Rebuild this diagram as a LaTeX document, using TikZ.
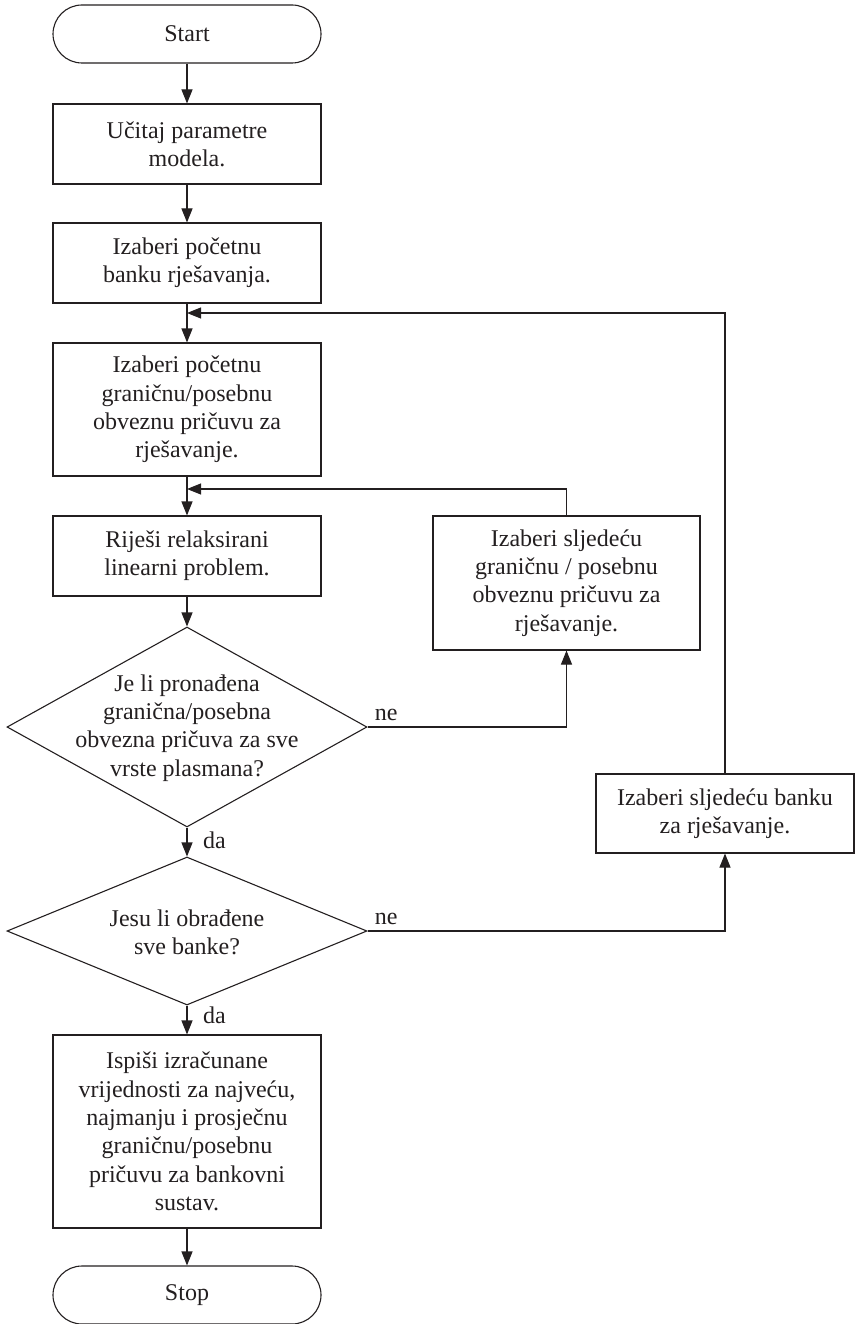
\documentclass[tikz,border=0pt]{standalone}
\usepackage{fontspec}
\setmainfont{Liberation Serif}
\usetikzlibrary{arrows.meta,shapes.geometric}
\definecolor{ln}{HTML}{231F20}
\definecolor{txt}{HTML}{231F20}
\begin{document}
\begin{tikzpicture}[x=1pt,y=-1pt,
  every node/.style={font=\fontsize{24}{28.3}\selectfont, text=txt},
  proc/.style={draw=ln, line width=1.1pt, minimum width=268pt, align=center, inner sep=0pt},
  term/.style={draw=ln, line width=1.1pt, rounded corners=29pt, minimum width=268pt, minimum height=58pt, align=center},
  dec/.style={draw=ln, line width=1.1pt, diamond, minimum width=360pt, inner sep=0pt},
  conn/.style={draw=ln, line width=1.1pt, -{Triangle[length=14pt,width=11pt]}},
  lbl/.style={anchor=base west, inner sep=0pt}
]
\useasboundingbox (0,0) rectangle (855,1324);

\node[term] (start) at (187,34) {Start};
\node[proc, minimum height=80pt] (b1) at (187,144) {Učitaj parametre\\modela.};
\node[proc, minimum height=80pt] (b2) at (187,263) {Izaberi početnu\\banku rješavanja.};
\node[proc, minimum height=133pt] (b3) at (187,409.5) {Izaberi početnu\\graničnu/posebnu\\obveznu pričuvu za\\rješavanje.};
\node[proc, minimum height=80pt] (b4) at (187,556) {Riješi relaksirani\\linearni problem.};
\node[dec, minimum height=200pt] (d1) at (187,727) {};
\node[align=center] (t1) at (187,728) {Je li pronađena\\granična/posebna\\obvezna pričuva za sve\\vrste plasmana?};
\node[dec, minimum height=148pt] (d2) at (187,931) {};
\node[align=center] (t2) at (187,932) {Jesu li obrađene\\sve banke?};
\node[proc, minimum height=193pt] (fin) at (187,1131.5) {Ispiši izračunane\\vrijednosti za najveću,\\najmanju i prosječnu\\graničnu/posebnu\\pričuvu za bankovni\\sustav.};
\node[term] (stop) at (187,1295) {Stop};

\node[proc, minimum width=267pt, minimum height=134pt] (rb) at (566.5,583) {Izaberi sljedeću\\graničnu / posebnu\\obveznu pričuvu za\\rješavanje.};
\node[proc, minimum width=258pt, minimum height=79pt] (bank) at (725,813.5) {Izaberi sljedeću banku\\za rješavanje.};

\coordinate (j1) at (187,489);
\coordinate (j2) at (187,313);

\draw[conn] (start) -- (b1);
\draw[conn] (b1) -- (b2);
\draw[conn] (b2) -- (b3);
\draw[conn] (b3) -- (b4);
\draw[conn] (b4) -- (d1);
\draw[conn] (d1) -- (d2);
\draw[conn] (d2) -- (fin);
\draw[conn] (fin) -- (stop);
\draw[conn] (d1.east) -| (rb.south);
\draw[conn] (rb.north) |- (j1);
\draw[conn] (d2.east) -| (bank.south);
\draw[conn] (bank.north) |- (j2);

\node[lbl] (ne1) at ([xshift=7pt,yshift=7pt]d1.east) {ne};
\node[lbl] (ne2) at ([xshift=7pt,yshift=7pt]d2.east) {ne};
\node[lbl] (da1) at ([xshift=16pt,yshift=-21pt]d1.south) {da};
\node[lbl] (da2) at ([xshift=16pt,yshift=-18pt]d2.south) {da};
\end{tikzpicture}
\end{document}
